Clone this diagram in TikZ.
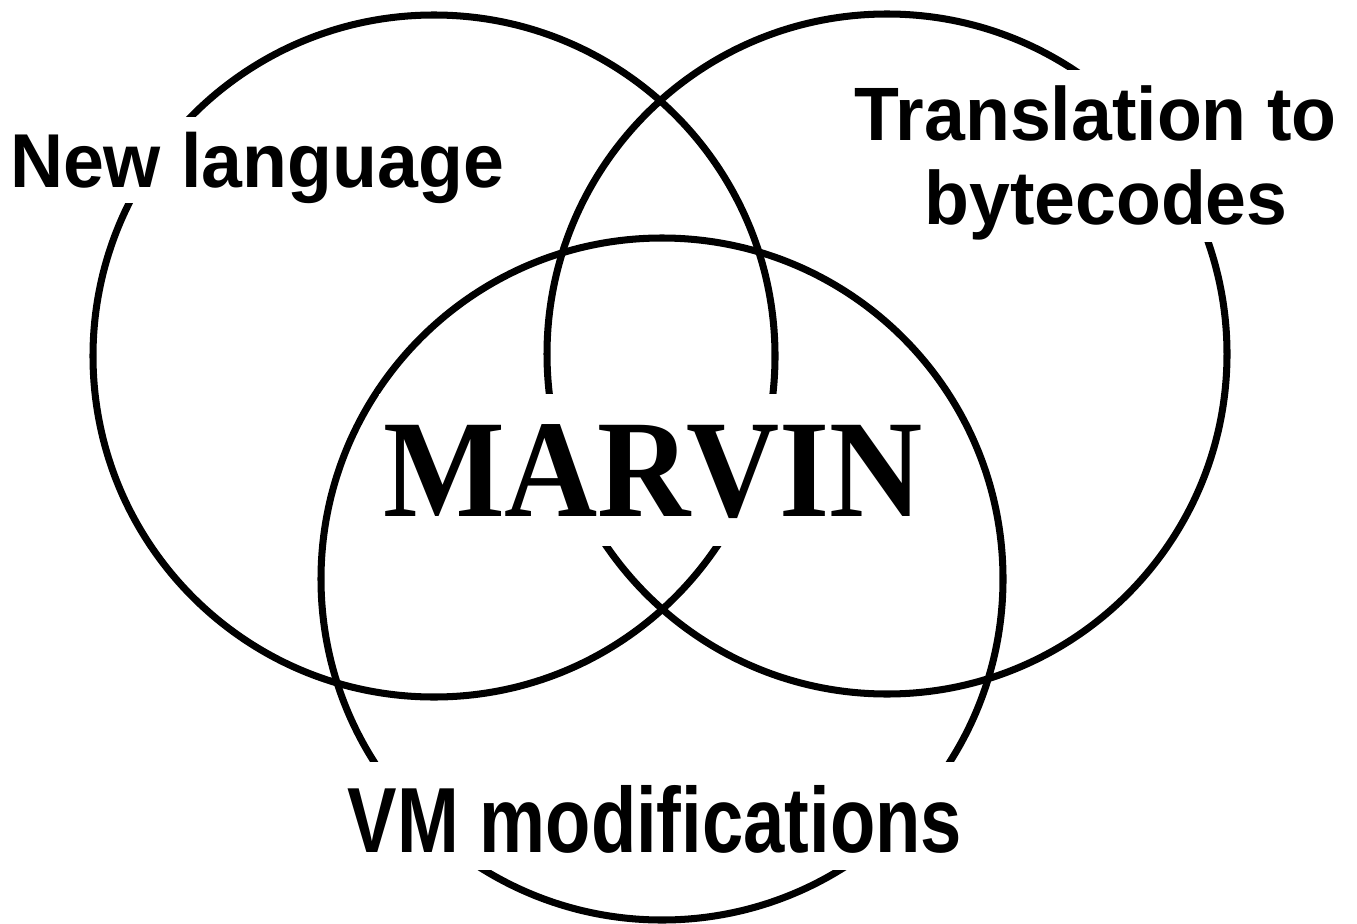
\documentclass[tikz,border=0pt]{standalone}
\usepackage{fontspec}
\usepackage{graphicx}
\newfontfamily\labelfont{Liberation Sans}
\newfontfamily\titlefont{Liberation Serif}
\usetikzlibrary{positioning}

\begin{document}
\begin{tikzpicture}[
  ring/.style={draw=black,line width=2pt},
  area/.style={fill=white,inner xsep=4pt,inner ysep=0pt,anchor=base,
    font=\labelfont\bfseries\fontsize{20.9}{23.9}\selectfont}]
  \useasboundingbox (0,0) rectangle (13.57,9.23);
  % centres of the three sets
  \coordinate (lang) at (4.34,5.67);
  \coordinate (trans) at (8.87,5.69);
  \coordinate (vm) at (6.62,3.44);
  \draw[ring] (lang) circle (3.41);
  \draw[ring] (trans) circle (3.40);
  \draw[ring] (vm) circle (3.41);
  % labels sit on white patches that break the rings
  \node[area,text height=0.71cm,text depth=0.15cm] (langlbl) at (2.57,7.35)
    {\scalebox{1}[1.04]{New language}};
  \node[area,align=center,text height=1.55cm,text depth=0.17cm] (translbl) at (11.06,6.98)
    {\scalebox{1}[1.03]{Translation to\kern0.28em}\\\scalebox{1}[1.03]{bytecodes}};
  \node[area,text height=0.90cm,text depth=0.18cm] (vmlbl) at (6.55,0.71)
    {\scalebox{1.01}[1.26]{VM modifications}};
  \node[area,inner xsep=1pt,font=\titlefont\bfseries\fontsize{36.7}{40}\selectfont,
    text height=1.22cm,text depth=0.30cm] (marvin) at (6.53,4.07)
    {\scalebox{1}[1.08]{MARVIN}};
\end{tikzpicture}
\end{document}
